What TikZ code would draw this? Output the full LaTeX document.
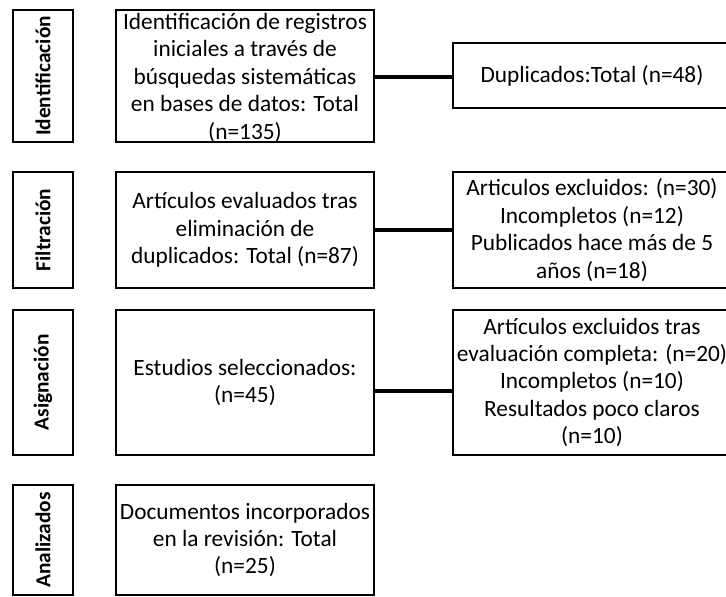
\documentclass[tikz,border=0pt]{standalone}
\usepackage{fontspec}
\setmainfont{Carlito}
\begin{document}
\begin{tikzpicture}[x=0.75pt, y=-0.75pt,
  every node/.style = {shape=rectangle, draw, align=center,
    inner sep=0pt, font=\fontsize{17.5}{20.6}\selectfont},
  stage/.style = {line width=1.4pt, minimum width=45pt,
    font=\fontsize{16}{18}\selectfont\bfseries},
  mainbox/.style = {line width=2pt, minimum width=193.5pt},
  sidebox/.style = {line width=2pt, minimum width=208.5pt},
  link/.style = {line width=2.4pt}]
  \useasboundingbox (0,0) rectangle (726,597);

  \node[stage, minimum height=99pt] (ident) at (43,76)
    {\rotatebox{90}{Identificación}};
  \node[stage, minimum height=87pt] (filt) at (43,230)
    {\rotatebox{90}{Filtración}};
  \node[stage, minimum height=108.75pt] (asig) at (43,382.5)
    {\rotatebox{90}{Asignación}};
  \node[stage, minimum height=82.5pt] (anal) at (43,540)
    {\rotatebox{90}{Analizados}};

  \node[mainbox, minimum height=99pt] (registros) at (245,76)
    {Identificación de registros\\iniciales a través de\\búsquedas sistemáticas\\en bases de datos: Total\\\smash{(n=135)}};
  \node[mainbox, minimum height=87pt] (evaluados) at (245,230)
    {Artículos evaluados tras\\eliminación de\\duplicados: Total (n=87)};
  \node[mainbox, minimum height=108.75pt] (seleccionados) at (245,382.5)
    {Estudios seleccionados:\\(n=45)};
  \node[mainbox, minimum height=82.5pt] (incorporados) at (245,540)
    {Documentos incorporados\\en la revisión: Total\\(n=25)};

  \node[sidebox, minimum height=48.75pt] (duplicados) at (592,75.5)
    {Duplicados:Total (n=48)};
  \node[sidebox, minimum height=87pt] (excluidos) at (592,230)
    {Articulos excluidos: (n=30)\\Incompletos (n=12)\\Publicados hace más de 5\\años (n=18)};
  \node[sidebox, minimum height=108.75pt] (descartados) at (592,382.5)
    {Artículos excluidos tras\\evaluación completa: (n=20)\\Incompletos (n=10)\\Resultados poco claros\\(n=10)};

  \coordinate (ya) at (0,77);
  \coordinate (yc) at (0,391);
  \draw[link] (registros.east |- ya) -- (duplicados.west |- ya);
  \draw[link] (evaluados) -- (excluidos);
  \draw[link] (seleccionados.east |- yc) -- (descartados.west |- yc);
\end{tikzpicture}
\end{document}
